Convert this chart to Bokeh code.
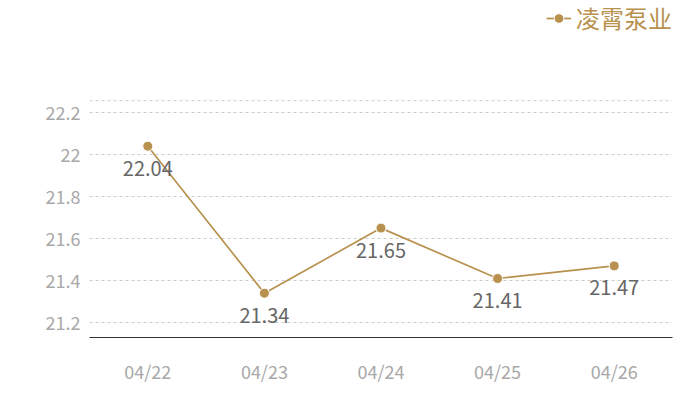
from bokeh.plotting import figure
from bokeh.models import (ColumnDataSource, FixedTicker, CustomJSTickFormatter, Span,
                          Legend, LegendItem, Range1d)
from bokeh.core.properties import value
from bokeh.embed import file_html
from bokeh.resources import INLINE

dates = ["04/22", "04/23", "04/24", "04/25", "04/26"]
prices = [22.04, 21.34, 21.65, 21.41, 21.47]
labels = ["22.04", "21.34", "21.65", "21.41", "21.47"]
series_name = "凌霄泵业"
y_ticks = [21.2, 21.4, 21.6, 21.8, 22.0, 22.2]

GOLD = "#b8914f"
FONT = "Noto Sans CJK SC"

src = ColumnDataSource(dict(x=dates, y=prices, lab=labels))

# frame spans from the top so that the legend can sit inside it
y_lo, y_grid_top, y_hi = 21.129, 22.257, 22.734

p = figure(width=700, height=400, x_range=dates, y_range=Range1d(y_lo, y_hi),
           output_backend="svg", toolbar_location=None,
           min_border_left=89, min_border_right=28, min_border_top=0, min_border_bottom=63)
p.outline_line_color = None
p.background_fill_color = "white"
p.border_fill_color = "white"

ln = p.line("x", "y", source=src, line_color=GOLD, line_width=1.7)
pts = p.scatter("x", "y", source=src, size=10, fill_color=GOLD, line_color="white", line_width=1)
p.text("x", "y", text="lab", source=src, text_align="center", text_baseline="middle",
       y_offset=22, text_font_size="20px", text_color="#666666", text_font=value(FONT))

# axes
p.yaxis.ticker = FixedTicker(ticks=y_ticks)
p.yaxis.formatter = CustomJSTickFormatter(code="return tick.toFixed(1).replace(/\\.0$/, '');")
p.yaxis.axis_line_color = None
p.yaxis.major_tick_line_color = None
p.yaxis.minor_tick_line_color = None
p.yaxis.major_label_text_color = "#a8a8a8"
p.yaxis.major_label_text_font_size = "18px"
p.yaxis.major_label_text_font = FONT
p.yaxis.major_label_standoff = 3

p.xaxis.axis_line_color = "#333333"
p.xaxis.axis_line_width = 1
p.xaxis.major_tick_line_color = None
p.xaxis.minor_tick_line_color = None
p.xaxis.major_label_text_color = "#a8a8a8"
p.xaxis.major_label_text_font_size = "18px"
p.xaxis.major_label_text_font = FONT
p.xaxis.major_label_standoff = 14

p.xgrid.grid_line_color = None
p.ygrid.grid_line_color = "#cccccc"
p.ygrid.grid_line_dash = "3 3"
p.ygrid.grid_line_width = 1
p.add_layout(Span(location=y_grid_top, dimension="width", line_color="#cccccc",
                  line_dash="3 3", line_width=1))

legend = Legend(items=[LegendItem(label=series_name, renderers=[ln, pts])],
                location="top_right", orientation="horizontal",
                label_text_font=FONT, label_text_font_size="24px", label_text_color=GOLD,
                glyph_width=25, glyph_height=24, label_standoff=5,
                background_fill_alpha=0, border_line_color=None, padding=0, margin=0)
p.add_layout(legend, "center")

open("out.html", "w").write(file_html(p, INLINE))
